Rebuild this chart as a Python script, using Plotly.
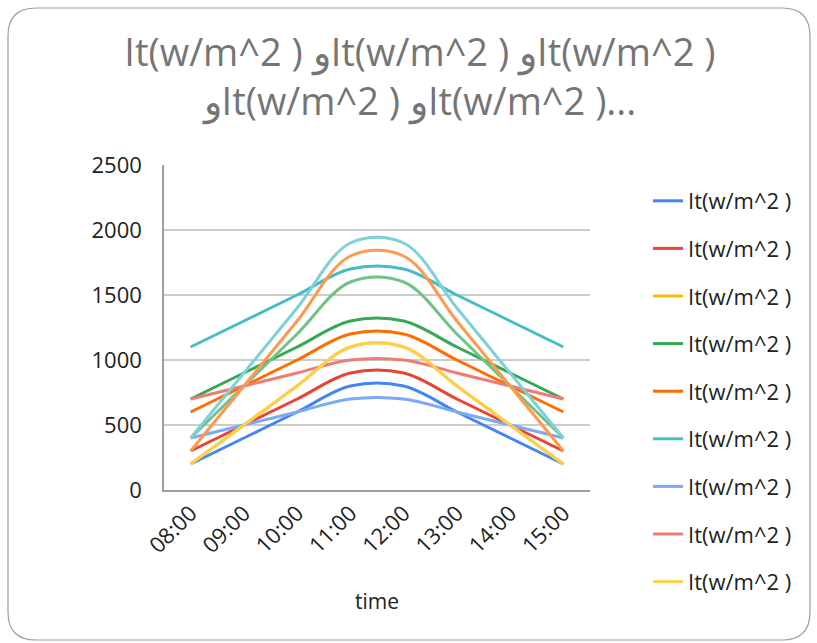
import plotly.graph_objects as go

times = ["08:00", "09:00", "10:00", "11:00", "12:00", "13:00", "14:00", "15:00"]
series_name = "It(w/m^2 )"

s1 = [200, 400, 600, 800, 800, 600, 400, 200]
s2 = [300, 500, 700, 900, 900, 700, 500, 300]
s3 = [200, 500, 800, 1100, 1100, 800, 500, 200]
s4 = [700, 900, 1100, 1300, 1300, 1100, 900, 700]
s5 = [600, 800, 1000, 1200, 1200, 1000, 800, 600]
s6 = [1100, 1300, 1500, 1700, 1700, 1500, 1300, 1100]
s7 = [400, 500, 600, 700, 700, 600, 500, 400]
s8 = [700, 800, 900, 1000, 1000, 900, 800, 700]
s9 = [200, 500, 800, 1100, 1100, 800, 500, 200]
s10 = [400, 800, 1200, 1600, 1600, 1200, 800, 400]
s11 = [300, 800, 1300, 1800, 1800, 1300, 800, 300]
s12 = [400, 900, 1400, 1900, 1900, 1400, 900, 400]

all_series = [s1, s2, s3, s4, s5, s6, s7, s8, s9, s10, s11, s12]
colors = ["#4285F4", "#EA4335", "#FBBC04", "#34A853", "#FF6D01", "#46BDC6",
          "#7BAAF7", "#F07B72", "#FCD04F", "#71C287", "#FF994D", "#7ED1D7"]

title_text = ("It(w/m^2 ) وIt(w/m^2 ) وIt(w/m^2 )<br>"
              "وIt(w/m^2 ) وIt(w/m^2 )...")

fig = go.Figure()
for i, (vals, col) in enumerate(zip(all_series, colors)):
    fig.add_trace(go.Scatter(
        x=times, y=vals, mode="lines", name=series_name, legendgroup=f"g{i}",
        line=dict(color=col, width=3, shape="spline", smoothing=1),
        showlegend=(i < 9),
    ))

L, R, T, B = 164, 227, 165, 153
W, H = 817, 643
pw, ph = W - L - R, H - T - B

def px(x):
    return (x - L) / pw

def py(y):
    return 1 - (y - T) / ph

# rounded frame around chart
x0, x1, y0, y1 = 8, 810, 8, 640
r = 28
path = (f"M {px(x0+r)},{py(y0)} L {px(x1-r)},{py(y0)} "
        f"Q {px(x1)},{py(y0)} {px(x1)},{py(y0+r)} "
        f"L {px(x1)},{py(y1-r)} Q {px(x1)},{py(y1)} {px(x1-r)},{py(y1)} "
        f"L {px(x0+r)},{py(y1)} Q {px(x0)},{py(y1)} {px(x0)},{py(y1-r)} "
        f"L {px(x0)},{py(y0+r)} Q {px(x0)},{py(y0)} {px(x0+r)},{py(y0)} Z")

fig.update_layout(
    width=W, height=H,
    margin=dict(l=L, r=R, t=T, b=B),
    paper_bgcolor="white", plot_bgcolor="white",
    font=dict(family="Open Sans, sans-serif", color="#222222"),
    title=dict(text=title_text, x=0.514, xanchor="center", y=1 - 66 / H, yanchor="middle",
               font=dict(size=38, color="#757575", family="Open Sans, sans-serif")),
    shapes=[dict(type="path", xref="paper", yref="paper", path=path,
                 line=dict(color="#9E9E9E", width=1.2), layer="below")],
    legend=dict(x=px(648), xanchor="left", y=py(180), yanchor="top",
                font=dict(size=22, color="#222222"), tracegroupgap=16,
                maxheight=460, bgcolor="rgba(0,0,0,0)"),
    xaxis=dict(type="category", range=[-0.5, 7.5], tickangle=-45, showgrid=False,
               showline=True, linecolor="#9E9E9E", linewidth=1.5,
               tickfont=dict(size=22, color="#222222"),
               title=dict(text="time", font=dict(size=21, color="#222222"), standoff=36)),
    yaxis=dict(range=[0, 2500], dtick=500, showgrid=True, gridcolor="#CCCCCC", gridwidth=1.5,
               showline=True, linecolor="#9E9E9E", linewidth=1.5, zeroline=False,
               tickfont=dict(size=22, color="#222222"), ticklabelstandoff=16),
)

fig.write_html("out.html")
